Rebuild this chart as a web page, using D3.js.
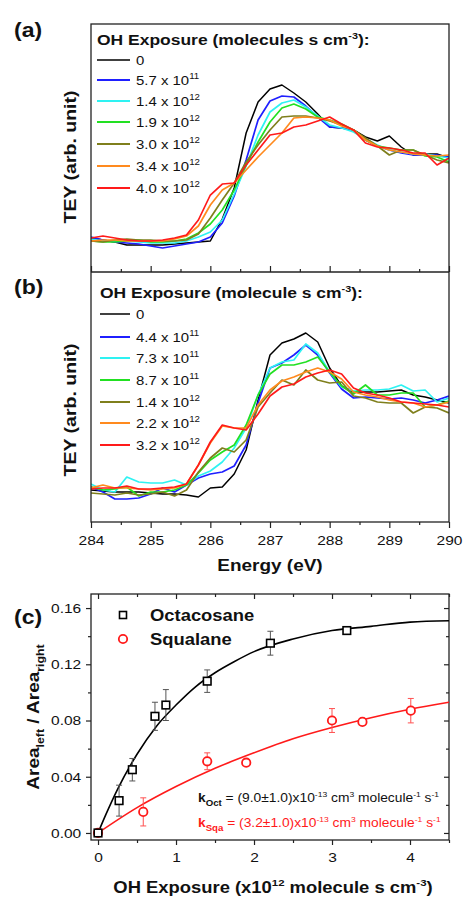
<!DOCTYPE html>
<html>
<head>
<meta charset="utf-8">
<script src="https://cdn.jsdelivr.net/npm/d3@7"></script>
<style>
  body { margin: 0; background: #fff; }
  svg { display: block; }
  text { font-family: Arial, "Liberation Sans", sans-serif; fill: #111; }
</style>
</head>
<body>
<div id="chart"></div>
<script>
// photon energy grid (eV)
const energy = [284.0, 284.2, 284.4, 284.6, 284.8, 285.0, 285.2, 285.4, 285.6, 285.8,
  286.0, 286.2, 286.4, 286.6, 286.8, 287.0, 287.2, 287.4, 287.6, 287.8,
  288.0, 288.2, 288.4, 288.6, 288.8, 289.0, 289.2, 289.4, 289.6, 289.8, 290.0];

// (a) octacosane spectra, TEY arb. unit
const octa0 = [12,10,8,5,5,5,5,6,7,8,9,31,62,117,148,161,165,157,148,136,123,122,120,113,109,114,103,95,96,96,92];
const octa1 = [13,10,8,7,6,4,2,4,6,8,13,27,54,90,130,149,154,153,144,133,123,122,120,110,104,100,97,95,95,95,93];
const octa2 = [11,9,9,9,8,7,7,7,9,13,18,30,56,84,115,138,147,150,143,134,125,122,118,111,105,100,98,96,96,94,92];
const octa3 = [9,8,8,9,10,8,8,9,11,17,26,40,60,85,108,128,142,146,141,133,130,126,120,110,104,102,100,100,94,93,88];
const octa4 = [9,8,10,11,10,10,9,9,10,16,32,50,67,88,105,120,133,134,134,132,129,125,120,112,104,95,100,100,95,90,87];
const octa5 = [9,10,10,9,9,9,9,11,14,24,45,60,67,80,93,105,117,132,133,132,130,124,120,110,104,100,98,96,95,94,95];
const octa6 = [12,14,12,10,9,9,10,12,15,30,55,66,67,85,100,115,117,123,125,129,133,126,120,107,103,102,100,97,97,85,92];
const labelsA = [["0", ""], ["5.7 x 10", "11"], ["1.4 x 10", "12"], ["1.9 x 10", "12"], ["3.0 x 10", "12"], ["3.4 x 10", "12"], ["4.0 x 10", "12"]];

// (b) squalane spectra, TEY arb. unit
const squa0 = [10,9,8,8,8,7,6,6,5,3,12,13,26,50,100,145,157,161,167,158,132,114,108,108,108,109,110,105,103,100,97];
const squa1 = [13,8,1,1,2,6,12,8,15,22,26,28,34,55,97,132,137,145,155,145,127,111,102,103,102,101,102,100,97,100,104];
const squa2 = [16,10,8,23,18,17,17,20,15,24,29,38,52,72,105,132,138,140,156,147,128,113,109,110,110,111,115,109,110,98,102];
const squa3 = [13,10,11,13,4,8,8,10,15,27,40,48,55,75,105,126,135,135,138,143,128,114,106,115,105,105,107,107,93,95,99];
const squa4 = [7,6,5,7,5,6,8,4,10,28,42,52,48,60,93,107,120,115,130,120,117,118,104,102,98,97,97,87,93,92,87];
const squa5 = [12,15,12,12,11,10,11,12,16,35,57,74,72,72,95,110,119,123,128,132,128,121,108,105,103,100,98,97,93,95,98];
const squa6 = [11,12,12,14,11,11,12,13,16,35,58,75,72,70,86,104,113,116,123,127,130,126,112,107,105,102,98,97,96,95,93];
const labelsB = [["0", ""], ["4.4 x 10", "11"], ["7.3 x 10", "11"], ["8.7 x 10", "11"], ["1.4 x 10", "12"], ["2.2 x 10", "12"], ["3.2 x 10", "12"]];

const energyTicks = [284, 285, 286, 287, 288, 289, 290];

// (c) area ratio vs OH exposure (x10^12)
const octExp = [0, 0.27, 0.44, 0.73, 0.87, 1.40, 2.21, 3.19];
const octRatio = [0.000, 0.023, 0.045, 0.083, 0.091, 0.108, 0.135, 0.144];
const octErr = [0.001, 0.011, 0.008, 0.010, 0.011, 0.008, 0.0085, 0.002];
const sqaExp = [0, 0.58, 1.40, 1.90, 3.00, 3.39, 4.01];
const sqaRatio = [0.000, 0.015, 0.051, 0.050, 0.080, 0.079, 0.087];
const sqaErr = [0.001, 0.010, 0.006, 0.002, 0.0085, 0.002, 0.0087];
// fitted curves as drawn
const octFitX = [0, 0.1, 0.25, 0.5, 0.75, 1, 1.25, 1.5, 1.75, 2, 2.5, 3, 3.5, 4, 4.5];
const octFitY = [0, 0.013, 0.031, 0.056, 0.076, 0.091, 0.104, 0.114, 0.122, 0.129, 0.138, 0.144, 0.147, 0.150, 0.151];
const sqaFitX = [0, 0.5, 1, 1.5, 2, 2.5, 3, 3.5, 4, 4.5];
const sqaFitY = [0, 0.018, 0.033, 0.046, 0.057, 0.067, 0.075, 0.082, 0.088, 0.093];

const colors = ["#000000", "#1f1fff", "#2ef2f2", "#22e022", "#7f7f1c", "#ff8a1e", "#ff1a1a"];

const W = 464, H = 898, SX = 1.15;
const svg = d3.select('#chart').append('svg').attr('width', W).attr('height', H);

// text helpers (glyphs in the figure are a bit wide)
function label(x, y, rot) {
  return svg.append('text')
    .attr('transform', `translate(${x},${y})` + (rot ? ' rotate(-90)' : '') + ` scale(${SX},1)`);
}
function rich(t, parts, size) {
  let shift = 0;
  parts.forEach(p => {
    const off = p.sup ? -0.42 * size : p.sub ? 0.32 * size : 0;
    t.append('tspan')
      .attr('dy', off - shift)
      .style('font-size', (p.sup || p.sub ? (p.small || 0.62) * size : size) + 'px')
      .style('font-weight', p.bold ? 'bold' : 'normal')
      .style('fill', p.fill || null)
      .text(p.t);
    shift = off;
  });
  return t;
}

const L = 91, R = 449;
const x = d3.scaleLinear().domain([284, 290]).range([L, R]);
const yA = d3.scaleLinear().domain([-22, 226]).range([272, 24]);
const yB = d3.scaleLinear().domain([-22, 228]).range([522, 272]);

const defs = svg.append('defs');
function spectra(series, y, id, top, bottom) {
  defs.append('clipPath').attr('id', id).append('rect')
    .attr('x', L).attr('y', top).attr('width', R - L).attr('height', bottom - top);
  const line = d3.line().x((d, i) => x(energy[i])).y(d => y(d));
  svg.append('g').attr('clip-path', `url(#${id})`)
    .selectAll('path').data(series).enter().append('path')
    .attr('d', line)
    .attr('fill', 'none')
    .attr('stroke', (d, i) => colors[i])
    .attr('stroke-width', (d, i) => i === 0 ? 1.5 : 1.7)
    .attr('stroke-linejoin', 'round');
}
spectra([octa0, octa1, octa2, octa3, octa4, octa5, octa6], yA, 'clipA', 24, 272);
spectra([squa0, squa1, squa2, squa3, squa4, squa5, squa6], yB, 'clipB', 272, 522);

function legend(titleWord, labels, x0, yTitle, yRows) {
  rich(label(x0, yTitle), [{ t: 'OH Exposure (' + titleWord + ' s cm', bold: true }, { t: '-3', sup: true, bold: true }, { t: '):', bold: true }], 15.2);
  labels.forEach((lb, i) => {
    const yy = yRows[i];
    svg.append('line').attr('x1', x0).attr('x2', 130).attr('y1', yy).attr('y2', yy)
      .attr('stroke', colors[i]).attr('stroke-width', i === 0 ? 1.5 : 2);
    rich(label(136, yy + 4.6), [{ t: lb[0] }, { t: lb[1], sup: true, small: 0.65 }], 13);
  });
}
legend('molecules', labelsA, 97, 45, [60, 80, 101, 122, 144, 166, 188]);
legend('molecule', labelsB, 100, 298, [314, 337, 358, 380, 402, 423, 445]);

// frames of (a) and (b)
svg.append('rect').attr('x', L).attr('y', 24).attr('width', R - L).attr('height', 522 - 24)
  .attr('fill', 'none').attr('stroke', '#222').attr('stroke-width', 1.3);
svg.append('line').attr('x1', L).attr('x2', R).attr('y1', 272).attr('y2', 272)
  .attr('stroke', '#222').attr('stroke-width', 1.3);

function styleAxis(g) {
  g.select('.domain').remove();
  g.selectAll('line').attr('stroke', '#222').attr('stroke-width', 1.2);
  g.selectAll('text').attr('transform', `scale(${SX},1)`).style('font-size', '13.5px').attr('fill', '#222')
    .style('font-family', 'Arial, "Liberation Sans", sans-serif');
}
const minorE = [284.5, 285.5, 286.5, 287.5, 288.5, 289.5];
// shared axis between (a) and (b)
svg.append('g').attr('transform', 'translate(0,272)')
  .call(d3.axisTop(x).tickValues(energyTicks).tickSize(6).tickFormat('')).call(styleAxis);
svg.append('g').attr('transform', 'translate(0,272)')
  .call(d3.axisTop(x).tickValues(minorE).tickSize(3).tickFormat('')).call(styleAxis);
// bottom axis of (b)
svg.append('g').attr('transform', 'translate(0,522)')
  .call(d3.axisBottom(x).tickValues(energyTicks).tickSize(6).tickPadding(7).tickFormat(d3.format('d'))).call(styleAxis);
svg.append('g').attr('transform', 'translate(0,522)')
  .call(d3.axisBottom(x).tickValues(minorE).tickSize(3).tickFormat('')).call(styleAxis);

rich(label(270, 571), [{ t: 'Energy (eV)', bold: true }], 16.5).attr('text-anchor', 'middle');
rich(label(76, 157, true), [{ t: 'TEY (arb. unit)', bold: true }], 17).attr('text-anchor', 'middle');
rich(label(76, 410, true), [{ t: 'TEY (arb. unit)', bold: true }], 17).attr('text-anchor', 'middle');
rich(label(14, 37), [{ t: '(a)', bold: true }], 20);
rich(label(14, 294), [{ t: '(b)', bold: true }], 20);
rich(label(14, 624), [{ t: '(c)', bold: true }], 20);

// ---- panel (c)
const cx = d3.scaleLinear().domain([-0.09, 4.5]).range([L, R]);
const cy = d3.scaleLinear().domain([-0.005, 0.17]).range([840, 594]);

svg.append('rect').attr('x', L).attr('y', 594).attr('width', R - L).attr('height', 840 - 594)
  .attr('fill', 'none').attr('stroke', '#222').attr('stroke-width', 1.3);

const xMaj = [0, 1, 2, 3, 4], xMin = [0.5, 1.5, 2.5, 3.5, 4.5];
const yMaj = [0, 0.04, 0.08, 0.12, 0.16], yMin = [0.02, 0.06, 0.10, 0.14];
svg.append('g').attr('transform', 'translate(0,840)')
  .call(d3.axisBottom(cx).tickValues(xMaj).tickSize(5).tickPadding(7).tickFormat(d3.format('d'))).call(styleAxis);
svg.append('g').attr('transform', 'translate(0,840)')
  .call(d3.axisBottom(cx).tickValues(xMin).tickSize(3).tickFormat('')).call(styleAxis);
svg.append('g').attr('transform', 'translate(0,594)')
  .call(d3.axisBottom(cx).tickValues(xMaj).tickSize(5).tickFormat('')).call(styleAxis);
svg.append('g').attr('transform', 'translate(0,594)')
  .call(d3.axisBottom(cx).tickValues(xMin).tickSize(3).tickFormat('')).call(styleAxis);
svg.append('g').attr('transform', `translate(${L},0)`)
  .call(d3.axisLeft(cy).tickValues(yMaj).tickSize(5).tickPadding(3.5).tickFormat(d3.format('.2f'))).call(styleAxis);
svg.append('g').attr('transform', `translate(${L},0)`)
  .call(d3.axisLeft(cy).tickValues(yMin).tickSize(3).tickFormat('')).call(styleAxis);
svg.append('g').attr('transform', `translate(${R},0)`)
  .call(d3.axisLeft(cy).tickValues(yMaj).tickSize(5).tickFormat('')).call(styleAxis);
svg.append('g').attr('transform', `translate(${R},0)`)
  .call(d3.axisLeft(cy).tickValues(yMin).tickSize(3).tickFormat('')).call(styleAxis);

// fit lines
const fitLine = d3.line().x(d => cx(d[0])).y(d => cy(d[1])).curve(d3.curveMonotoneX);
svg.append('path').attr('d', fitLine(d3.zip(octFitX, octFitY)))
  .attr('fill', 'none').attr('stroke', '#000').attr('stroke-width', 1.6);
svg.append('path').attr('d', fitLine(d3.zip(sqaFitX, sqaFitY)))
  .attr('fill', 'none').attr('stroke', '#ff1a1a').attr('stroke-width', 1.6);

function errBars(xs, ys, es, col) {
  const g = svg.append('g').attr('stroke', col).attr('stroke-width', 1);
  xs.forEach((v, i) => {
    const px = cx(v), t = cy(ys[i] + es[i]), b = cy(ys[i] - es[i]);
    g.append('line').attr('x1', px).attr('x2', px).attr('y1', t).attr('y2', b);
    g.append('line').attr('x1', px - 3).attr('x2', px + 3).attr('y1', t).attr('y2', t);
    g.append('line').attr('x1', px - 3).attr('x2', px + 3).attr('y1', b).attr('y2', b);
  });
}
errBars(octExp, octRatio, octErr, '#555');
errBars(sqaExp, sqaRatio, sqaErr, '#ff5050');

svg.append('g').selectAll('circle').data(d3.zip(sqaExp, sqaRatio)).enter().append('circle')
  .attr('cx', d => cx(d[0])).attr('cy', d => cy(d[1])).attr('r', 4.2)
  .attr('fill', '#fff').attr('stroke', '#ff1a1a').attr('stroke-width', 1.8);
svg.append('g').selectAll('rect').data(d3.zip(octExp, octRatio)).enter().append('rect')
  .attr('x', d => cx(d[0]) - 3.8).attr('y', d => cy(d[1]) - 3.8).attr('width', 7.6).attr('height', 7.6)
  .attr('fill', '#fff').attr('stroke', '#000').attr('stroke-width', 1.6);

// legend (c)
svg.append('rect').attr('x', 119.5).attr('y', 611.5).attr('width', 7).attr('height', 7)
  .attr('fill', '#fff').attr('stroke', '#000').attr('stroke-width', 1.6);
svg.append('circle').attr('cx', 123).attr('cy', 639).attr('r', 4.2)
  .attr('fill', '#fff').attr('stroke', '#ff1a1a').attr('stroke-width', 1.8);
rich(label(150, 621), [{ t: 'Octacosane', bold: true }], 16);
rich(label(150, 645), [{ t: 'Squalane', bold: true }], 16);

function rate(sub, val, y, col) {
  rich(label(198, y), [
    { t: 'k', bold: true, fill: col },
    { t: sub, sub: true, bold: true, small: 0.7, fill: col },
    { t: ' = (' + val + ')x10', fill: col },
    { t: '-13', sup: true, fill: col },
    { t: ' cm', fill: col }, { t: '3', sup: true, fill: col },
    { t: ' molecule', fill: col }, { t: '-1', sup: true, fill: col },
    { t: ' s', fill: col }, { t: '-1', sup: true, fill: col }
  ], 12);
}
rate('Oct', '9.0±1.0', 802, '#111');
rate('Sqa', '3.2±1.0', 827, '#ff1a1a');

rich(label(273, 893), [
  { t: 'OH Exposure (x10', bold: true }, { t: '12', sup: true, bold: true },
  { t: ' molecule s cm', bold: true }, { t: '-3', sup: true, bold: true }, { t: ')', bold: true }
], 16).attr('text-anchor', 'middle');
rich(label(39, 717, true), [
  { t: 'Area', bold: true }, { t: 'left', sub: true, bold: true, small: 0.65 },
  { t: ' / Area', bold: true }, { t: 'right', sub: true, bold: true, small: 0.65 }
], 16.5).attr('text-anchor', 'middle');
</script>
</body>
</html>
